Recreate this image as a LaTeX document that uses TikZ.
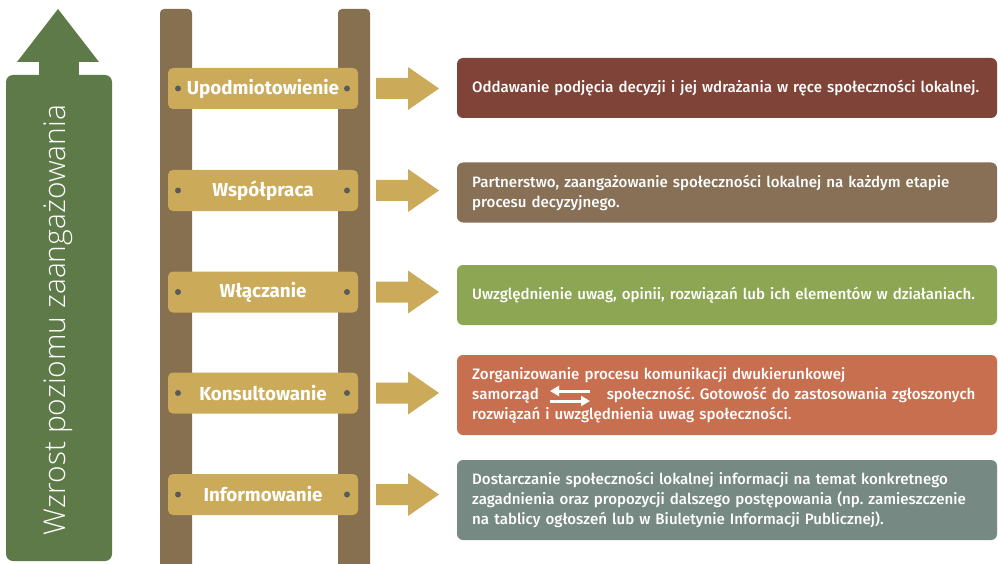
\documentclass[tikz,border=0pt]{standalone}
\usepackage{fontspec}
\setmainfont{Fira Sans}
\newfontfamily\descfont{Fira Sans Medium}
\newfontfamily\lightfont{Open Sans Light}
\usetikzlibrary{arrows.meta}
\definecolor{railc}{HTML}{86704F}
\definecolor{rungc}{HTML}{CBAB5A}
\definecolor{dotc}{HTML}{5A5A5A}
\definecolor{boxa}{HTML}{7F4338}
\definecolor{boxb}{HTML}{877055}
\definecolor{boxc}{HTML}{8DA653}
\definecolor{boxd}{HTML}{C86F50}
\definecolor{boxe}{HTML}{768A83}
\definecolor{greenc}{HTML}{5E7A48}
\frenchspacing
\begin{document}
\begin{tikzpicture}[x=1pt,y=-1pt,
  rung/.style={fill=rungc, rounded corners=5pt, minimum width=190pt, minimum height=41pt, inner sep=0pt,
    text=white, font=\fontsize{18.8}{20}\selectfont\bfseries},
  dotm/.style={circle, fill=dotc, minimum size=6pt, inner sep=0pt},
  descbox/.style={rounded corners=6pt, minimum width=540pt, inner sep=0pt},
  desctext/.style={anchor=west, text=white, align=left, text width=524pt, inner sep=0pt,
    font=\descfont\fontsize{15.1}{20}\selectfont\frenchspacing},
  rarrow/.style={fill=rungc}
]
\useasboundingbox (0,0) rectangle (998,564);
% green arrow
\fill[greenc, rounded corners=7pt] (6,75) rectangle (112,561);
\fill[greenc] (39,61) rectangle (79,78);
\fill[greenc] (17,62) -- (58,9) -- (99,62) -- cycle;
\node[rotate=90, text=white, font=\lightfont\fontsize{30}{32}\selectfont, inner sep=0pt] (lbl) at (58,320) {Wzrost poziomu zaangażowania};
% rails
\fill[railc, rounded corners=4pt] (160,570) -- (160,9) -- (192,9) -- (192,570) -- cycle;
\fill[railc, rounded corners=4pt] (338,570) -- (338,9) -- (370,9) -- (370,570) -- cycle;
% rungs
\foreach \n/\c/\t in {r1/88.5/Upodmiotowienie, r2/190.5/Współpraca, r3/292/Włączanie, r4/393/Konsultowanie, r5/494.5/Informowanie}{
  \node[rung] (\n) at (263,\c) {\t};
  \node[dotm] (\n l) at (178,\c) {};
  \node[dotm] (\n r) at (347,\c) {};
  \fill[rarrow] (376,\c-10.5) -- (408,\c-10.5) -- (408,\c-21.5) -- (439,\c) -- (408,\c+21.5) -- (408,\c+10.5) -- (376,\c+10.5) -- cycle;
}
% description boxes
\node[descbox, fill=boxa, minimum height=60pt] (b1) at (727,88) {};
\node[descbox, fill=boxb, minimum height=60pt] (b2) at (727,192.5) {};
\node[descbox, fill=boxc, minimum height=60pt] (b3) at (727,295) {};
\node[descbox, fill=boxd, minimum height=80pt] (b4) at (727,395) {};
\node[descbox, fill=boxe, minimum height=80pt] (b5) at (727,500) {};
\node[desctext] (t1) at (472,88) {Oddawanie podjęcia decyzji i jej wdrażania w ręce społeczności lokalnej.};
\node[desctext] (t2) at (472,192.5) {Partnerstwo, zaangażowanie społeczności lokalnej na każdym etapie\\procesu decyzyjnego.};
\node[desctext] (t3) at (472,295) {Uwzględnienie uwag, opinii, rozwiązań lub ich elementów w działaniach.};
\node[desctext] (t4) at (472,395) {Zorganizowanie procesu komunikacji dwukierunkowej\\samorząd\hspace*{68pt}społeczność. Gotowość do zastosowania zgłoszonych\\rozwiązań i uwzględnienia uwag społeczności.};
\node[desctext] (t5) at (472,500) {Dostarczanie społeczności lokalnej informacji na temat konkretnego\\zagadnienia oraz propozycji dalszego postępowania (np. zamieszczenie\\na tablicy ogłoszeń lub w Biuletynie Informacji Publicznej).};
% double arrow
\coordinate (da1) at (590,391);
\coordinate (da2) at (550,391);
\coordinate (db1) at (550,401);
\coordinate (db2) at (590,401);
\draw[white, line width=3pt, -{Triangle[length=9pt,width=10pt]}] (da1) -- (da2);
\draw[white, line width=3pt, -{Triangle[length=9pt,width=10pt]}] (db1) -- (db2);
\end{tikzpicture}
\end{document}
